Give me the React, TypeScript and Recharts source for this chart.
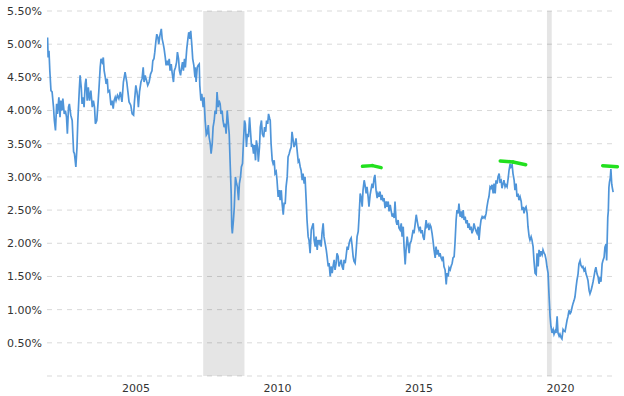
import React from "react";
import {
  LineChart,
  Line,
  XAxis,
  YAxis,
  CartesianGrid,
  ReferenceArea,
  ReferenceLine,
} from "recharts";

// decimal-year dates of each reading
const years: number[] = [
  2002.42, 2002.44, 2002.47, 2002.50, 2002.54, 2002.58, 2002.63, 2002.66, 2002.70, 2002.74,
  2002.77, 2002.82, 2002.86, 2002.89, 2002.93, 2002.96, 2003.01, 2003.05, 2003.09, 2003.12,
  2003.16, 2003.19, 2003.24, 2003.29, 2003.34, 2003.37, 2003.42, 2003.46, 2003.49, 2003.54,
  2003.57, 2003.61, 2003.64, 2003.68, 2003.71, 2003.75, 2003.78, 2003.82, 2003.86, 2003.90,
  2003.95, 2004.00, 2004.04, 2004.08, 2004.11, 2004.16, 2004.21, 2004.24, 2004.28, 2004.31,
  2004.35, 2004.39, 2004.42, 2004.46, 2004.49, 2004.53, 2004.56, 2004.61, 2004.66, 2004.70,
  2004.74, 2004.77, 2004.81, 2004.84, 2004.89, 2004.94,
  2004.99, 2005.05, 2005.10, 2005.16, 2005.22, 2005.26, 2005.30, 2005.36, 2005.41, 2005.46,
  2005.49, 2005.54, 2005.58, 2005.61, 2005.63, 2005.67, 2005.72, 2005.76, 2005.80, 2005.83,
  2005.87, 2005.92, 2005.96, 2006.01, 2006.06, 2006.11, 2006.14, 2006.18, 2006.21, 2006.25,
  2006.28, 2006.32, 2006.35, 2006.39, 2006.44, 2006.47, 2006.51, 2006.54, 2006.58, 2006.61,
  2006.65, 2006.68, 2006.72, 2006.75, 2006.79, 2006.82, 2006.87, 2006.90, 2006.94, 2006.98,
  2007.01, 2007.05, 2007.08, 2007.12, 2007.15, 2007.19, 2007.22, 2007.26, 2007.29, 2007.34,
  2007.38, 2007.41, 2007.45, 2007.48, 2007.52, 2007.55, 2007.59, 2007.63,
  2007.64, 2007.67, 2007.71, 2007.74, 2007.78, 2007.80, 2007.84, 2007.87, 2007.92, 2007.95,
  2007.99, 2008.03, 2008.06, 2008.10, 2008.13, 2008.17, 2008.20, 2008.24, 2008.27, 2008.31,
  2008.34, 2008.38, 2008.41, 2008.45, 2008.48, 2008.52, 2008.55, 2008.59, 2008.62, 2008.66,
  2008.70, 2008.73, 2008.77, 2008.80, 2008.84, 2008.87, 2008.91, 2008.93, 2008.95, 2008.99,
  2009.02, 2009.06, 2009.10, 2009.13, 2009.17, 2009.20, 2009.24, 2009.27, 2009.31, 2009.34,
  2009.38, 2009.41, 2009.45, 2009.48, 2009.52, 2009.56, 2009.59, 2009.63, 2009.66, 2009.70,
  2009.73, 2009.77, 2009.80, 2009.84, 2009.87, 2009.91, 2009.94, 2009.98, 2010.01, 2010.06,
  2010.09, 2010.13, 2010.16, 2010.20, 2010.23, 2010.27,
  2010.29, 2010.32, 2010.36, 2010.39, 2010.43, 2010.46, 2010.50, 2010.53, 2010.57, 2010.61,
  2010.64, 2010.68, 2010.71, 2010.75, 2010.78, 2010.82, 2010.85, 2010.89, 2010.92, 2010.96,
  2010.99, 2011.03, 2011.06, 2011.10, 2011.13, 2011.17, 2011.20, 2011.24, 2011.28, 2011.31,
  2011.35, 2011.38, 2011.42, 2011.45, 2011.49, 2011.52, 2011.56, 2011.59, 2011.63, 2011.66,
  2011.70, 2011.74, 2011.77, 2011.81, 2011.84, 2011.88, 2011.91, 2011.95, 2011.98, 2012.02,
  2012.05, 2012.09, 2012.12, 2012.16, 2012.19, 2012.23, 2012.27, 2012.30, 2012.34, 2012.37,
  2012.41, 2012.44, 2012.48, 2012.51, 2012.55, 2012.58, 2012.62, 2012.65, 2012.69, 2012.72,
  2012.76, 2012.80, 2012.83, 2012.87, 2012.90, 2012.94, 2012.97, 2013.01, 2013.04, 2013.08,
  2013.11, 2013.15, 2013.18, 2013.22, 2013.25, 2013.29, 2013.32, 2013.36, 2013.40, 2013.43,
  2013.47, 2013.50, 2013.54, 2013.57, 2013.61, 2013.64, 2013.68, 2013.71, 2013.75, 2013.78,
  2013.82, 2013.85, 2013.89, 2013.92, 2013.96, 2013.99, 2014.03, 2014.07, 2014.10, 2014.14,
  2014.17, 2014.21, 2014.24, 2014.28, 2014.31, 2014.35, 2014.39, 2014.42, 2014.46, 2014.49,
  2014.53, 2014.56, 2014.60, 2014.63, 2014.67, 2014.70, 2014.74, 2014.77, 2014.81, 2014.84,
  2014.88, 2014.92, 2014.95, 2014.99, 2015.02, 2015.06, 2015.09, 2015.13, 2015.16, 2015.20,
  2015.23, 2015.27, 2015.30, 2015.34, 2015.37, 2015.41, 2015.45, 2015.48, 2015.52, 2015.55,
  2015.59, 2015.62, 2015.66, 2015.69, 2015.73, 2015.76, 2015.80, 2015.83, 2015.87, 2015.90,
  2015.94, 2015.97, 2016.01, 2016.04, 2016.08, 2016.12, 2016.15, 2016.19, 2016.22, 2016.26,
  2016.29, 2016.33, 2016.36, 2016.40, 2016.43, 2016.47, 2016.51, 2016.54, 2016.58, 2016.61,
  2016.65, 2016.68, 2016.72, 2016.75, 2016.79, 2016.82, 2016.86, 2016.89, 2016.93, 2016.96,
  2017.00, 2017.04, 2017.07, 2017.11, 2017.14, 2017.18, 2017.21, 2017.25, 2017.28, 2017.32,
  2017.35, 2017.39, 2017.42, 2017.46, 2017.49, 2017.53, 2017.57, 2017.60, 2017.64, 2017.67,
  2017.71, 2017.74, 2017.78, 2017.81, 2017.85, 2017.88, 2017.92, 2017.95, 2017.99, 2018.02,
  2018.06, 2018.09, 2018.13, 2018.17, 2018.20, 2018.24, 2018.27, 2018.31, 2018.34, 2018.38,
  2018.41, 2018.45, 2018.48, 2018.52, 2018.55, 2018.59, 2018.62, 2018.66, 2018.70, 2018.73,
  2018.77, 2018.80, 2018.84, 2018.87, 2018.91, 2018.94, 2018.98, 2019.01, 2019.05, 2019.08,
  2019.12, 2019.16, 2019.19, 2019.23, 2019.26, 2019.30, 2019.33, 2019.37, 2019.40, 2019.44,
  2019.47, 2019.51, 2019.54, 2019.58, 2019.61, 2019.65, 2019.69, 2019.72, 2019.76, 2019.79,
  2019.83, 2019.86, 2019.90, 2019.93, 2019.97, 2020.00, 2020.04, 2020.07, 2020.11, 2020.14,
  2020.18, 2020.21, 2020.25, 2020.29, 2020.32, 2020.36, 2020.39, 2020.43, 2020.46, 2020.50,
  2020.53, 2020.57, 2020.60, 2020.64, 2020.67, 2020.71, 2020.74, 2020.78, 2020.81, 2020.85,
  2020.89, 2020.92, 2020.96, 2020.99, 2021.03, 2021.06, 2021.10, 2021.13, 2021.17, 2021.20,
  2021.24, 2021.27, 2021.31, 2021.34, 2021.38, 2021.42, 2021.45, 2021.49, 2021.52, 2021.56,
  2021.59, 2021.63, 2021.66, 2021.70, 2021.73, 2021.77, 2021.80, 2021.84, 2021.88, 2021.91,
  2021.95, 2021.98, 2022.02, 2022.05, 2022.09, 2022.12, 2022.16,
  2022.18, 2022.22, 2022.24, 2022.26, 2022.28, 2022.31, 2022.33, 2022.36, 2022.38, 2022.41,
];

// rate (%) at each date above
const rates: number[] = [
  5.10, 4.80, 4.90, 4.60, 4.30, 4.28, 4.05, 3.85, 3.70, 4.10,
  3.95, 4.20, 3.90, 4.15, 4.00, 4.18, 3.95, 4.00, 3.90, 3.65,
  4.05, 4.10, 3.93, 3.85, 3.38, 3.35, 3.15, 3.45, 3.85, 4.30,
  4.53, 4.35, 4.10, 4.20, 4.05, 4.40, 4.48, 4.15, 4.35, 4.15,
  4.30, 4.05, 4.15, 4.05, 3.80, 3.85, 4.15, 4.35, 4.65, 4.78,
  4.73, 4.80, 4.60, 4.50, 4.40, 4.48, 4.28, 4.30, 4.08, 4.15,
  4.03, 4.15, 4.20, 4.15, 4.23, 4.18,
  4.28, 4.13, 4.43, 4.58, 4.43, 4.28, 4.13, 4.08, 3.95, 3.93,
  4.13, 4.38, 4.28, 4.18, 4.05, 4.28, 4.43, 4.48, 4.65, 4.43,
  4.53, 4.45, 4.38, 4.43, 4.55, 4.60, 4.75, 4.78, 4.88, 5.05,
  5.15, 5.10, 5.00, 5.13, 5.23, 5.08, 5.00, 4.93, 4.80, 4.68,
  4.75, 4.68, 4.78, 4.60, 4.70, 4.58, 4.43, 4.60, 4.65, 4.73,
  4.88, 4.78, 4.60, 4.53, 4.63, 4.73, 4.60, 4.78, 4.65, 4.93,
  5.08, 5.18, 5.08, 5.20, 4.98, 4.78, 4.68, 4.50,
  4.65, 4.43, 4.65, 4.68, 4.70, 4.38, 4.15, 4.25, 4.05, 4.20,
  3.85, 3.63, 3.65, 3.78, 3.60, 3.50, 3.35, 3.50, 3.75, 3.85,
  4.00, 3.95, 4.28, 4.05, 4.15, 4.10, 3.95, 4.00, 3.85, 3.75,
  3.80, 3.65, 4.00, 3.85, 3.65, 3.25, 2.75, 2.25, 2.15, 2.35,
  2.55, 3.00, 2.90, 2.85, 2.65, 2.90, 3.00, 3.15, 3.20, 3.50,
  3.85, 3.80, 3.45, 3.65, 3.60, 3.90, 3.70, 3.45, 3.50, 3.35,
  3.48, 3.25, 3.55, 3.45, 3.23, 3.45, 3.75, 3.85, 3.65, 3.60,
  3.75, 3.68, 3.85, 3.80, 3.95, 3.88,
  3.85, 3.50, 3.25, 3.20, 3.25, 3.05, 3.08, 2.95, 2.70, 2.80,
  2.65, 2.80, 2.60, 2.43, 2.60, 2.60, 2.85, 3.00, 3.30, 3.35,
  3.40, 3.45, 3.68, 3.55, 3.45, 3.50, 3.58, 3.40, 3.23, 3.25,
  3.15, 3.10, 2.95, 3.05, 2.90, 3.00, 2.65, 2.35, 2.10, 2.05,
  1.85, 2.20, 2.25, 2.30, 2.05, 1.95, 2.10, 1.90, 2.05, 2.00,
  2.05, 1.95, 2.15, 2.30, 2.10, 2.00, 1.90, 1.80, 1.65, 1.70,
  1.50, 1.65, 1.55, 1.65, 1.75, 1.60, 1.70, 1.85, 1.80, 1.65,
  1.70, 1.75, 1.65, 1.60, 1.75, 1.70, 1.80, 1.95, 1.90, 2.00,
  2.05, 2.08, 1.98, 1.80, 1.73, 1.70, 1.85, 2.10, 2.18, 2.40,
  2.75, 2.70, 2.55, 2.80, 2.95, 2.88, 2.75, 2.85, 2.70, 2.55,
  2.73, 2.80, 2.90, 2.83, 2.98, 3.03, 2.80, 2.68, 2.75, 2.70,
  2.78, 2.65, 2.73, 2.63, 2.68, 2.53, 2.63, 2.55, 2.63, 2.48,
  2.58, 2.50, 2.40, 2.45, 2.38, 2.63, 2.33, 2.28, 2.35, 2.23,
  2.20, 2.30, 2.10, 2.25, 1.95, 1.68, 1.90, 2.10, 2.00, 1.85,
  2.00, 2.03, 2.10, 2.20, 2.15, 2.28, 2.43, 2.35, 2.25, 2.20,
  2.25, 2.15, 2.20, 2.10, 2.05, 2.20, 2.35, 2.25, 2.28, 2.20,
  2.28, 2.25, 2.15, 2.05, 1.90, 1.78, 1.95, 1.83, 1.90, 1.80,
  1.85, 1.78, 1.75, 1.80, 1.65, 1.60, 1.38, 1.55, 1.50, 1.63,
  1.60, 1.65, 1.70, 1.78, 1.80, 2.00, 2.35, 2.50, 2.45, 2.60,
  2.40, 2.48, 2.38, 2.50, 2.35, 2.40, 2.30, 2.35, 2.23, 2.30,
  2.20, 2.25, 2.15, 2.20, 2.30, 2.23, 2.18, 2.15, 2.25, 2.05,
  2.25, 2.35, 2.40, 2.38, 2.40, 2.38, 2.45, 2.55, 2.65, 2.70,
  2.85, 2.83, 2.88, 2.75, 2.90, 2.75, 2.95, 2.90, 3.00, 3.05,
  2.93, 2.95, 2.83, 2.90, 2.95, 2.85, 2.88, 2.85, 2.98, 3.10,
  3.20, 3.15, 3.18, 3.05, 2.95, 2.80, 2.90, 2.70, 2.75, 2.65,
  2.70, 2.63, 2.50, 2.55, 2.45, 2.53, 2.55, 2.45, 2.25, 2.10,
  2.05, 2.10, 2.05, 1.95, 1.75, 1.55, 1.53, 1.85, 1.65, 1.90,
  1.80, 1.88, 1.83, 1.90, 1.85, 1.83, 1.75, 1.65, 1.55, 1.25,
  0.90, 0.75, 0.65, 0.70, 0.63, 0.68, 0.65, 0.90, 0.65, 0.60,
  0.63, 0.58, 0.56, 0.70, 0.68, 0.67, 0.74, 0.84, 0.89, 0.99,
  0.94, 0.96, 1.04, 1.09, 1.14, 1.19, 1.34, 1.44, 1.54, 1.69,
  1.74, 1.67, 1.64, 1.65, 1.59, 1.62, 1.54, 1.49, 1.44, 1.29,
  1.24, 1.29, 1.34, 1.42, 1.49, 1.59, 1.64, 1.54, 1.49, 1.39,
  1.49, 1.42, 1.69, 1.74, 1.79, 1.94, 1.99,
  1.74, 2.39, 2.49, 2.84, 2.92, 2.99, 3.12, 2.89, 2.84, 2.77,
];

// recession periods (start, end) in decimal years
const recessions: [number, number][] = [
  [2007.92, 2009.38],
  [2020.07, 2020.24],
];

// hand-drawn green peak marks: points [year, rate]
const peakMarks: [number, number][][] = [
  [[2013.55, 3.16], [2013.9, 3.17], [2014.21, 3.14]],
  [[2018.42, 3.24], [2018.87, 3.225], [2019.32, 3.184]],
  [[2022.04, 3.169], [2022.56, 3.154]],
];

const yTicks = [0, 0.5, 1, 1.5, 2, 2.5, 3, 3.5, 4, 4.5, 5, 5.5];
const xTicks = [2005.55, 2010.55, 2015.55, 2020.55];

const data = years.map((t, i) => ({ t, r: rates[i] }));

const tickStyle = { fontSize: 11, fill: "#333333", fontFamily: "DejaVu Sans" };
const GREEN = "#22e01e";

export default function App() {
  return (
    <div style={{ position: "absolute", left: 0, top: 0, background: "#fff" }}>
      <LineChart
        width={624}
        height={396}
        data={data}
        margin={{ top: 11, right: 10, bottom: 0, left: 0 }}
      >
        <CartesianGrid
          vertical={false}
          stroke="#d9d9d9"
          strokeDasharray="5 5"
        />
        {recessions.map(([a, b], i) => (
          <ReferenceArea
            key={"rec" + i}
            x1={a}
            x2={b}
            y1={0}
            y2={5.5}
            fill="#000000"
            fillOpacity={0.1}
            stroke="none"
            ifOverflow="hidden"
          />
        ))}
        <XAxis
          dataKey="t"
          type="number"
          domain={[2002.4, 2022.44]}
          allowDataOverflow
          ticks={xTicks}
          tickFormatter={(v: number) => String(Math.floor(v))}
          axisLine={false}
          tickLine={false}
          tickSize={0}
          tickMargin={8}
          height={20}
          tick={tickStyle}
          interval={0}
        />
        <YAxis
          type="number"
          domain={[0, 5.5]}
          ticks={yTicks}
          tickFormatter={(v: number) => (v === 0 ? "" : v.toFixed(2) + "%")}
          axisLine={false}
          tickLine={false}
          tickSize={0}
          tickMargin={5}
          width={47}
          tick={tickStyle}
          interval={0}
        />
        <Line
          type="linear"
          dataKey="r"
          stroke="#4f95d9"
          strokeWidth={1.7}
          dot={false}
          activeDot={false}
          isAnimationActive={false}
        />
        {peakMarks.flatMap((pts, i) =>
          pts.slice(1).map((p, j) => (
            <ReferenceLine
              key={"pk" + i + "-" + j}
              segment={[
                { x: pts[j][0], y: pts[j][1] },
                { x: p[0], y: p[1] },
              ]}
              stroke={GREEN}
              strokeWidth={3.5}
              strokeLinecap="round"
              ifOverflow="visible"
            />
          ))
        )}
      </LineChart>
    </div>
  );
}
